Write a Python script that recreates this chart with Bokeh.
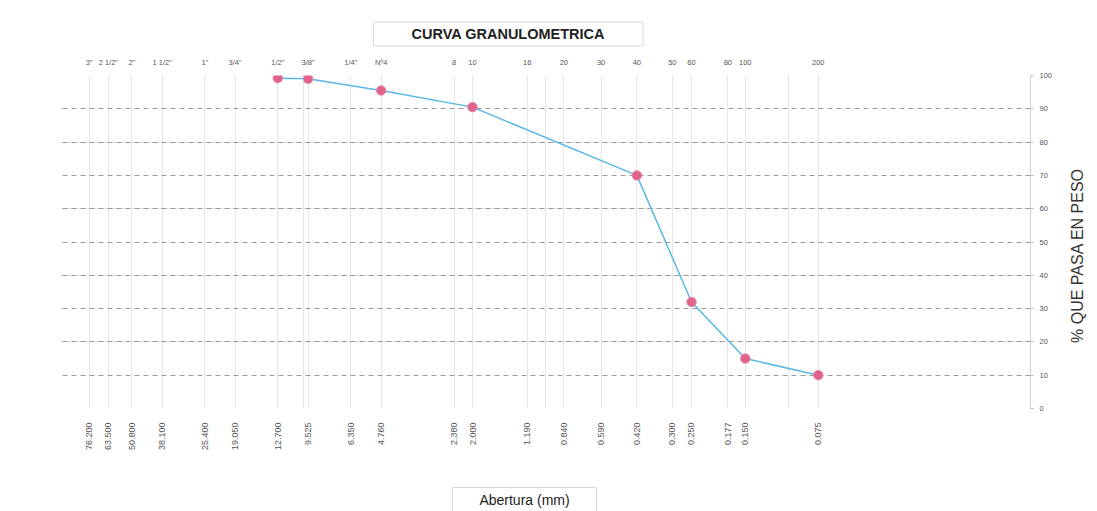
import math

from bokeh.embed import file_html
from bokeh.models import (ColumnDataSource, FixedTicker, Grid, Label,
                          LinearAxis, LogAxis, Range1d, Title)
from bokeh.plotting import figure
from bokeh.resources import INLINE

# Standard sieve openings (mm) with their sieve designations
sieve_mm = [76.2, 63.5, 50.8, 38.1, 25.4, 19.05, 12.7, 9.525, 6.35, 4.76,
            2.38, 2.0, 1.19, 0.84, 0.59, 0.42, 0.30, 0.25, 0.177, 0.15, 0.075]
sieve_names = ['3"', '2 1/2"', '2"', '1 1/2"', '1"', '3/4"', '1/2"', '3/8"',
               '1/4"', 'Nº4', '8', '10', '16', '20', '30', '40', '50', '60',
               '80', '100', '200']
opening_labels = ["76.200", "63.500", "50.800", "38.100", "25.400", "19.050",
                  "12.700", "9.525", "6.350", "4.760", "2.380", "2.000",
                  "1.190", "0.840", "0.590", "0.420", "0.300", "0.250",
                  "0.177", "0.150", "0.075"]
percent_ticks = [0, 10, 20, 30, 40, 50, 60, 70, 80, 90, 100]

# Sample results: opening (mm) and cumulative percent passing
sample_mm = [12.7, 9.525, 4.76, 2.0, 0.42, 0.25, 0.15, 0.075]
percent_passing = [99.2, 99.0, 95.5, 90.5, 70.0, 32.0, 15.0, 10.0]

FONT = "Liberation Sans"

p = figure(width=1097, height=511, x_axis_type="log",
           x_range=Range1d(100, 0.01), y_range=Range1d(0, 100),
           x_axis_location=None, y_axis_location=None,
           output_backend="svg", toolbar_location=None,
           min_border_left=60, min_border_right=67,
           min_border_top=75, min_border_bottom=103)
p.outline_line_color = None
p.background_fill_color = "white"
p.border_fill_color = "white"

# Grid lines
p.add_layout(Grid(dimension=0, ticker=FixedTicker(ticks=sieve_mm),
                  grid_line_color="#e6e6e6", grid_line_width=1))
p.add_layout(Grid(dimension=1, ticker=FixedTicker(ticks=percent_ticks),
                  grid_line_color="#9a9a9a", grid_line_dash="5 4",
                  grid_line_width=1))

# Sieve designations along the top
top_axis = LogAxis(ticker=FixedTicker(ticks=sieve_mm),
                   major_label_overrides=dict(zip(sieve_mm, sieve_names)))
top_axis.axis_line_color = None
top_axis.major_tick_line_color = None
top_axis.minor_tick_line_color = None
top_axis.major_label_standoff = 3
top_axis.major_label_text_font = FONT
top_axis.major_label_text_font_size = "7.5px"
top_axis.major_label_text_color = "#555555"
p.add_layout(top_axis, "above")

# Openings in mm along the bottom, written vertically
bottom_axis = LogAxis(ticker=FixedTicker(ticks=sieve_mm),
                      major_label_overrides=dict(zip(sieve_mm, opening_labels)),
                      major_label_orientation=math.pi / 2)
bottom_axis.axis_line_color = None
bottom_axis.major_tick_line_color = None
bottom_axis.minor_tick_line_color = None
bottom_axis.major_label_standoff = 8
bottom_axis.major_label_text_font = FONT
bottom_axis.major_label_text_font_size = "9px"
bottom_axis.major_label_text_color = "#555555"
p.add_layout(bottom_axis, "below")

# Percent passing on the right
right_axis = LinearAxis(ticker=FixedTicker(ticks=percent_ticks))
right_axis.axis_line_color = "#d0d0d0"
right_axis.major_tick_line_color = "#bbbbbb"
right_axis.major_tick_out = 3
right_axis.major_tick_in = 0
right_axis.minor_tick_line_color = None
right_axis.major_label_standoff = 6
right_axis.major_label_text_font = FONT
right_axis.major_label_text_font_size = "7.5px"
right_axis.major_label_text_color = "#555555"
p.add_layout(right_axis, "right")

# Axis titles, placed in pixels within their side panels
y_title = Label(x=22, y=153, x_units="screen", y_units="screen",
                text="% QUE PASA EN PESO", angle=math.pi / 2,
                text_align="center", text_baseline="middle",
                text_font=FONT, text_font_size="16px",
                text_color="#333333")
p.add_layout(y_title, "right")

x_title = Label(x=464, y=-22, x_units="screen", y_units="screen",
                text="Abertura (mm)", text_align="center",
                text_baseline="middle", text_font=FONT,
                text_font_size="14px", text_color="#222222",
                border_line_color="#d8d8d8", background_fill_color="white",
                padding=(27, 4))
p.add_layout(x_title, "below")

# Chart title in a box
chart_title = Title(text="CURVA GRANULOMETRICA", align="left", offset=313,
                    text_font=FONT, text_font_size="14.5px",
                    text_font_style="bold", text_color="#222222",
                    border_line_color="#d8d8d8", padding=(38, 4),
                    standoff=17)
p.add_layout(chart_title, "above")

# Grading curve
src = ColumnDataSource(dict(mm=sample_mm, passing=percent_passing))
p.line("mm", "passing", source=src, line_color="#5ab7e6", line_width=1.5)
p.scatter("mm", "passing", source=src, size=9.5, fill_color="#e0638c",
          line_color="#e88aab", line_width=1)

open("out.html", "w").write(file_html(p, INLINE))
